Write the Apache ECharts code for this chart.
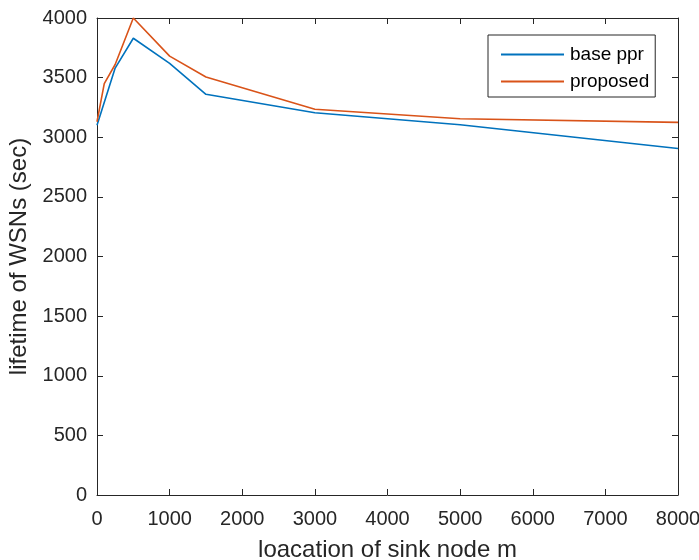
<!DOCTYPE html>
<html>
<head>
<meta charset="utf-8">
<script src="https://cdn.jsdelivr.net/npm/echarts@6/dist/echarts.min.js"></script>
<style>
  html, body { margin: 0; padding: 0; background: #fff; }
  #chart { width: 699px; height: 560px; }
</style>
</head>
<body>
<div id="chart"></div>
<script>
// sink location (m) and lifetime (sec)
const baseX = [0, 250, 500, 1000, 1500, 3000, 5000, 8000]
const baseY = [3100, 3580, 3830, 3620, 3360, 3205, 3105, 2905]
const propX = [0, 100, 250, 500, 1000, 1500, 3000, 5000, 8000]
const propY = [3130, 3450, 3610, 4000, 3680, 3505, 3235, 3155, 3125]
const xTicks = [0, 1000, 2000, 3000, 4000, 5000, 6000, 7000, 8000]
const yTicks = [0, 500, 1000, 1500, 2000, 2500, 3000, 3500, 4000]

const pairs = (xs, ys) => xs.map((x, i) => [x, ys[i]])

const axisColor = '#262626'
const font = 'Liberation Sans, Arial, sans-serif'

const chart = echarts.init(document.getElementById('chart'))

const plainAxis = {
  axisLine: { show: true, onZero: false, lineStyle: { color: axisColor, width: 1 } },
  axisTick: { show: true, inside: true, length: 6, lineStyle: { color: axisColor } },
  splitLine: { show: false }
}

chart.setOption({
  animation: false,
  backgroundColor: '#fff',
  grid: { left: 97, right: 21, top: 18, bottom: 65, containLabel: false, outerBoundsMode: 'none' },
  legend: {
    orient: 'vertical',
    left: 488,
    top: 35,
    padding: [10, 6, 6, 12],
    itemGap: 8,
    itemWidth: 63,
    itemHeight: 19,
    borderColor: axisColor,
    borderWidth: 1,
    backgroundColor: '#fff',
    itemStyle: { opacity: 0, borderWidth: 0 },
    textStyle: { fontFamily: font, fontSize: 19, color: '#000', padding: [0, 0, 0, 1] },
    data: ['base ppr', 'proposed']
  },
  xAxis: [
    {
      type: 'value',
      min: xTicks[0],
      max: xTicks[xTicks.length - 1],
      interval: xTicks[1] - xTicks[0],
      name: 'loacation of sink node m',
      nameLocation: 'middle',
      nameGap: 43,
      nameTextStyle: { fontFamily: font, fontSize: 24, color: axisColor },
      axisLabel: { fontFamily: font, fontSize: 20, color: axisColor, margin: 14, formatter: v => String(v) },
      ...plainAxis
    },
    {
      type: 'value',
      position: 'top',
      min: xTicks[0],
      max: xTicks[xTicks.length - 1],
      interval: xTicks[1] - xTicks[0],
      axisLabel: { show: false },
      ...plainAxis
    }
  ],
  yAxis: [
    {
      type: 'value',
      min: yTicks[0],
      max: yTicks[yTicks.length - 1],
      interval: yTicks[1] - yTicks[0],
      name: 'lifetime of WSNs (sec)',
      nameLocation: 'middle',
      nameGap: 63,
      nameTextStyle: { fontFamily: font, fontSize: 24, color: axisColor },
      axisLabel: { fontFamily: font, fontSize: 20, color: axisColor, margin: 10, formatter: v => String(v) },
      ...plainAxis
    },
    {
      type: 'value',
      position: 'right',
      min: yTicks[0],
      max: yTicks[yTicks.length - 1],
      interval: yTicks[1] - yTicks[0],
      axisLabel: { show: false },
      ...plainAxis
    }
  ],
  series: [
    {
      name: 'base ppr',
      type: 'line',
      data: pairs(baseX, baseY),
      symbol: 'none',
      lineStyle: { color: '#0072BD', width: 1.6 },
      itemStyle: { color: '#0072BD' }
    },
    {
      name: 'proposed',
      type: 'line',
      data: pairs(propX, propY),
      symbol: 'none',
      lineStyle: { color: '#D95319', width: 1.6 },
      itemStyle: { color: '#D95319' }
    }
  ]
})
</script>
</body>
</html>
